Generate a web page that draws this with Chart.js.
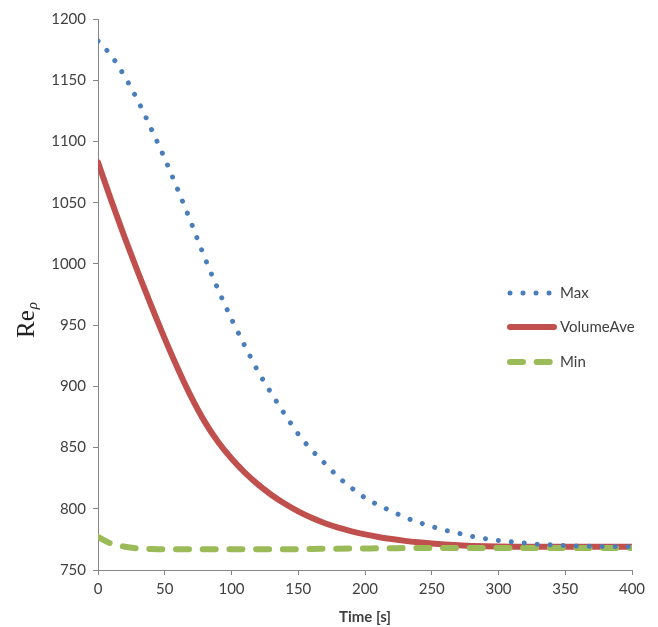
<!DOCTYPE html>
<html>
<head>
<meta charset="utf-8">
<script src="https://cdn.jsdelivr.net/npm/chart.js@4.4.1/dist/chart.umd.min.js"></script>
<style>
  html, body { margin: 0; padding: 0; background: #fff; }
  #wrap { width: 658px; height: 627px; }
</style>
</head>
<body>
<div id="wrap"><canvas id="myChart" width="658" height="627"></canvas></div>
<script>
// time in seconds, every 10 s
const times = [0, 10, 20, 30, 40, 50, 60, 70, 80, 90, 100, 110, 120, 130, 140, 150, 160, 170, 180, 190, 200,
  210, 220, 230, 240, 250, 260, 270, 280, 290, 300, 310, 320, 330, 340, 350, 360, 370, 380, 390, 400]

const maxVals = [1182, 1170, 1153, 1133, 1110, 1086, 1060, 1033, 1005, 979, 955, 933, 912, 894, 877, 861, 848, 837, 826, 817, 809,
  803, 798, 793, 789, 785.5, 782.5, 780, 777.5, 775.5, 774, 773, 772, 771, 770.5, 770, 769.6, 769.4, 769.2, 769.1, 769]

const aveVals = [1083, 1051.5, 1021.5, 993, 965.5, 939, 914, 891, 871, 854.5, 841, 829.5, 819.7, 811.3, 804.1, 797.9, 792.6, 788.2, 784.6, 781.6, 779.1,
  777, 775.3, 773.8, 772.6, 771.6, 770.8, 770.2, 769.7, 769.3, 769.1, 769, 769, 769, 769, 769, 769, 769, 769, 769, 769]

const minVals = [777, 771.5, 769, 767.6, 767.2, 767, 767, 767, 767, 767, 767, 767, 767, 767, 767, 767, 767.2, 767.3, 767.4, 767.5, 767.6,
  767.7, 767.8, 767.9, 768, 768, 768, 768, 768, 768, 768, 768, 768, 768, 768, 768, 768, 768, 768, 768, 768]

const seriesNames = ["Max", "VolumeAve", "Min"]
const xTicks = {min: 0, max: 400, step: 50}
const yTicks = {min: 750, max: 1200, step: 50}

const textColor = "#404040"
const axisColor = "#868686"

function toPoints(vals){
  return vals.map((v, i) => ({x: times[i], y: v}))
}

// legend drawn by hand so the line samples keep their dash style
const sideLegend = {
  id: "sideLegend",
  afterDraw(chart){
    const ctx = chart.ctx
    const rows = [293, 327, 362]
    chart.data.datasets.forEach((ds, i) => {
      const y = rows[i]
      ctx.save()
      ctx.strokeStyle = ds.borderColor
      ctx.lineWidth = ds.borderWidth
      ctx.lineCap = "round"
      ctx.setLineDash(ds.borderDash || [])
      ctx.beginPath()
      ctx.moveTo(510, y)
      ctx.lineTo(554, y)
      ctx.stroke()
      ctx.setLineDash([])
      ctx.fillStyle = textColor
      ctx.font = "15px Lato"
      ctx.textBaseline = "middle"
      ctx.fillText(ds.label, 560, y)
      ctx.restore()
    })
  }
}

// y axis title: "Re" with a subscript rho
const yTitle = {
  id: "yTitle",
  afterDraw(chart){
    const ctx = chart.ctx
    ctx.save()
    ctx.translate(34, 338)
    ctx.rotate(-Math.PI / 2)
    ctx.fillStyle = "#222"
    ctx.font = "25px 'Liberation Serif'"
    ctx.textBaseline = "alphabetic"
    ctx.fillText("Re", 0, 0)
    const w = ctx.measureText("Re").width
    ctx.font = "italic 15px 'Liberation Serif'"
    ctx.fillText("\u03c1", w + 1, 3)
    ctx.restore()
  }
}

new Chart("myChart", {
  type: "line",
  data: {
    datasets: [
      {
        label: seriesNames[0],
        data: toPoints(maxVals),
        borderColor: "#4A7EBB",
        borderWidth: 5,
        borderDash: [0.01, 13],
        borderCapStyle: "round",
        cubicInterpolationMode: "monotone",
        pointRadius: 0,
        order: 0
      },
      {
        label: seriesNames[1],
        data: toPoints(aveVals),
        borderColor: "#C0504D",
        borderWidth: 6,
        borderCapStyle: "round",
        cubicInterpolationMode: "monotone",
        pointRadius: 0,
        order: 2
      },
      {
        label: seriesNames[2],
        data: toPoints(minVals),
        borderColor: "#9BBB59",
        borderWidth: 6,
        borderDash: [13, 13.7],
        borderCapStyle: "round",
        cubicInterpolationMode: "monotone",
        pointRadius: 0,
        order: 1
      }
    ]
  },
  options: {
    responsive: false,
    animation: false,
    devicePixelRatio: 1,
    layout: {padding: {top: 19, right: 26, bottom: 0, left: 0}},
    plugins: {
      legend: {display: false},
      tooltip: {enabled: false}
    },
    scales: {
      x: {
        type: "linear",
        min: xTicks.min,
        max: xTicks.max,
        ticks: {stepSize: xTicks.step, color: textColor, font: {family: "Lato", size: 15}, padding: 5, maxRotation: 0,
          callback: v => String(v)},
        grid: {drawOnChartArea: false, drawTicks: true, tickLength: 5, color: axisColor},
        border: {color: axisColor, width: 1},
        title: {display: true, text: "Time [s]", color: textColor, font: {family: "Lato", size: 15, weight: "bold"}, padding: {top: 0, bottom: 1}},
        afterFit(scale){ scale.height = 57 }
      },
      y: {
        min: yTicks.min,
        max: yTicks.max,
        ticks: {stepSize: yTicks.step, color: textColor, font: {family: "Lato", size: 15}, padding: 7,
          callback: v => String(v)},
        grid: {drawOnChartArea: false, drawTicks: true, tickLength: 5, color: axisColor},
        border: {color: axisColor, width: 1},
        afterFit(scale){ scale.width = 98 }
      }
    }
  },
  plugins: [sideLegend, yTitle]
})
</script>
</body>
</html>
